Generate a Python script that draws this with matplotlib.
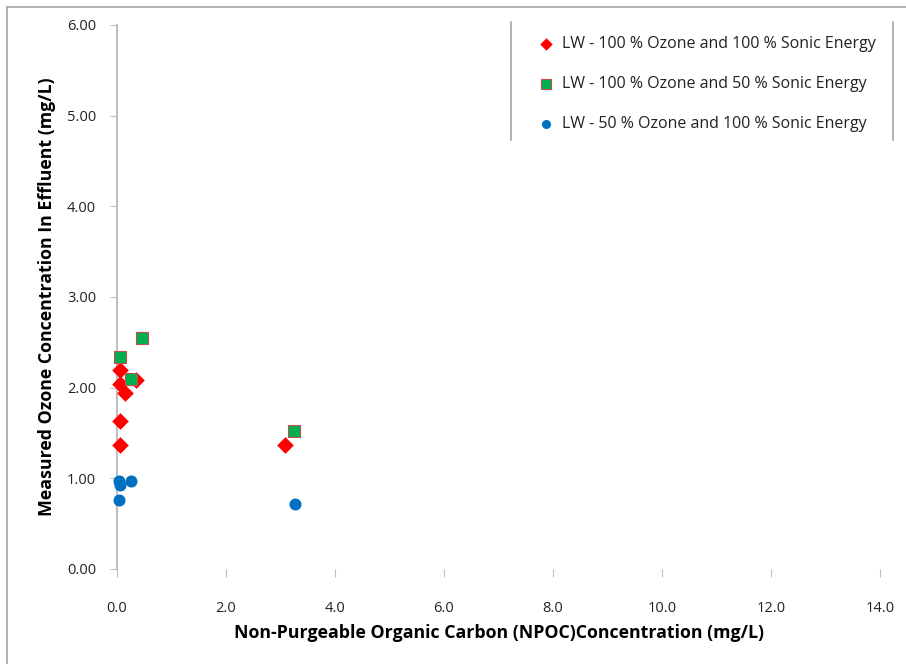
import matplotlib
matplotlib.use("Agg")
import matplotlib.pyplot as plt
from matplotlib.lines import Line2D

plt.rcParams['font.family'] = ['Open Sans', 'DejaVu Sans']

# Data
red_x = [0.05, 0.05, 0.05, 0.05, 0.15, 0.35, 3.08]
red_y = [2.20, 2.04, 1.63, 1.37, 1.94, 2.08, 1.37]
green_x = [0.05, 0.46, 0.26, 3.25]
green_y = [2.34, 2.55, 2.10, 1.52]
blue_x = [0.03, 0.05, 0.26, 0.03, 3.27]
blue_y = [0.97, 0.93, 0.97, 0.76, 0.72]
labels = ["LW - 100 % Ozone and 100 % Sonic Energy",
          "LW - 100 % Ozone and 50 % Sonic Energy",
          "LW - 50 % Ozone and 100 % Sonic Energy"]
xticks = [0, 2, 4, 6, 8, 10, 12, 14]
yticks = [0, 1, 2, 3, 4, 5, 6]

W, H = 906, 664
fig = plt.figure(figsize=(W/100, H/100), dpi=100)
ax = fig.add_axes([117/W, 1-569/H, (880-117)/W, (569-25)/H])

ax.scatter(red_x, red_y, marker='D', s=72, color='#FF0000', zorder=3, label=labels[0],
           linewidths=0, clip_on=False)
ax.scatter(green_x, green_y, marker='s', s=85, color='#00B050', edgecolors='#C0504D',
           linewidths=0.8, zorder=3, label=labels[1], clip_on=False)
ax.scatter(blue_x, blue_y, marker='o', s=75, color='#0070C0', zorder=3, label=labels[2],
           linewidths=0, clip_on=False)

ax.set_xlim(0, 14)
ax.set_ylim(0, 6)
ax.set_xticks(xticks)
ax.set_xticklabels([f"{v:.1f}" for v in xticks])
ax.set_yticks(yticks)
ax.set_yticklabels([f"{v:.2f}" for v in yticks])

for s in ['top', 'right', 'bottom']:
    ax.spines[s].set_visible(False)
ax.spines['left'].set_color('#BFBFBF')
ax.spines['left'].set_linewidth(1.5)
ax.spines['left'].set_zorder(1)
ax.tick_params(axis='both', colors='#BFBFBF', labelcolor='#222222', labelsize=10.5, length=5)
ax.tick_params(axis='x', pad=17, direction='out', length=6)
ax.tick_params(axis='y', pad=10)

ax.set_xlabel("Non-Purgeable Organic Carbon (NPOC)Concentration (mg/L)", fontsize=12.8,
              fontweight='bold', labelpad=6)
ax.set_ylabel("Measured Ozone Concentration In Effluent (mg/L)", fontsize=12.8,
              fontweight='bold', labelpad=8)

leg = fig.legend(loc='upper left', bbox_to_anchor=(520/W, 1-22/H), frameon=False,
                 fontsize=11.5, labelspacing=1.5, handletextpad=0.3, handlelength=1.4,
                 markerscale=0.75)
for t in leg.get_texts():
    t.set_color('#222222')

# legend side lines
fig.add_artist(Line2D([511/W, 511/W], [1-22/H, 1-140/H], color='#A6A6A6', lw=1.2))
fig.add_artist(Line2D([893/W, 893/W], [1-22/H, 1-140/H], color='#A6A6A6', lw=1.2))
# figure border (top & left)
fig.add_artist(Line2D([7/W, 7/W], [0, 1-7/H], color='#A6A6A6', lw=1.2))
fig.add_artist(Line2D([7/W, 1], [1-7/H, 1-7/H], color='#A6A6A6', lw=1.2))

fig.savefig("out.png", dpi=100)
